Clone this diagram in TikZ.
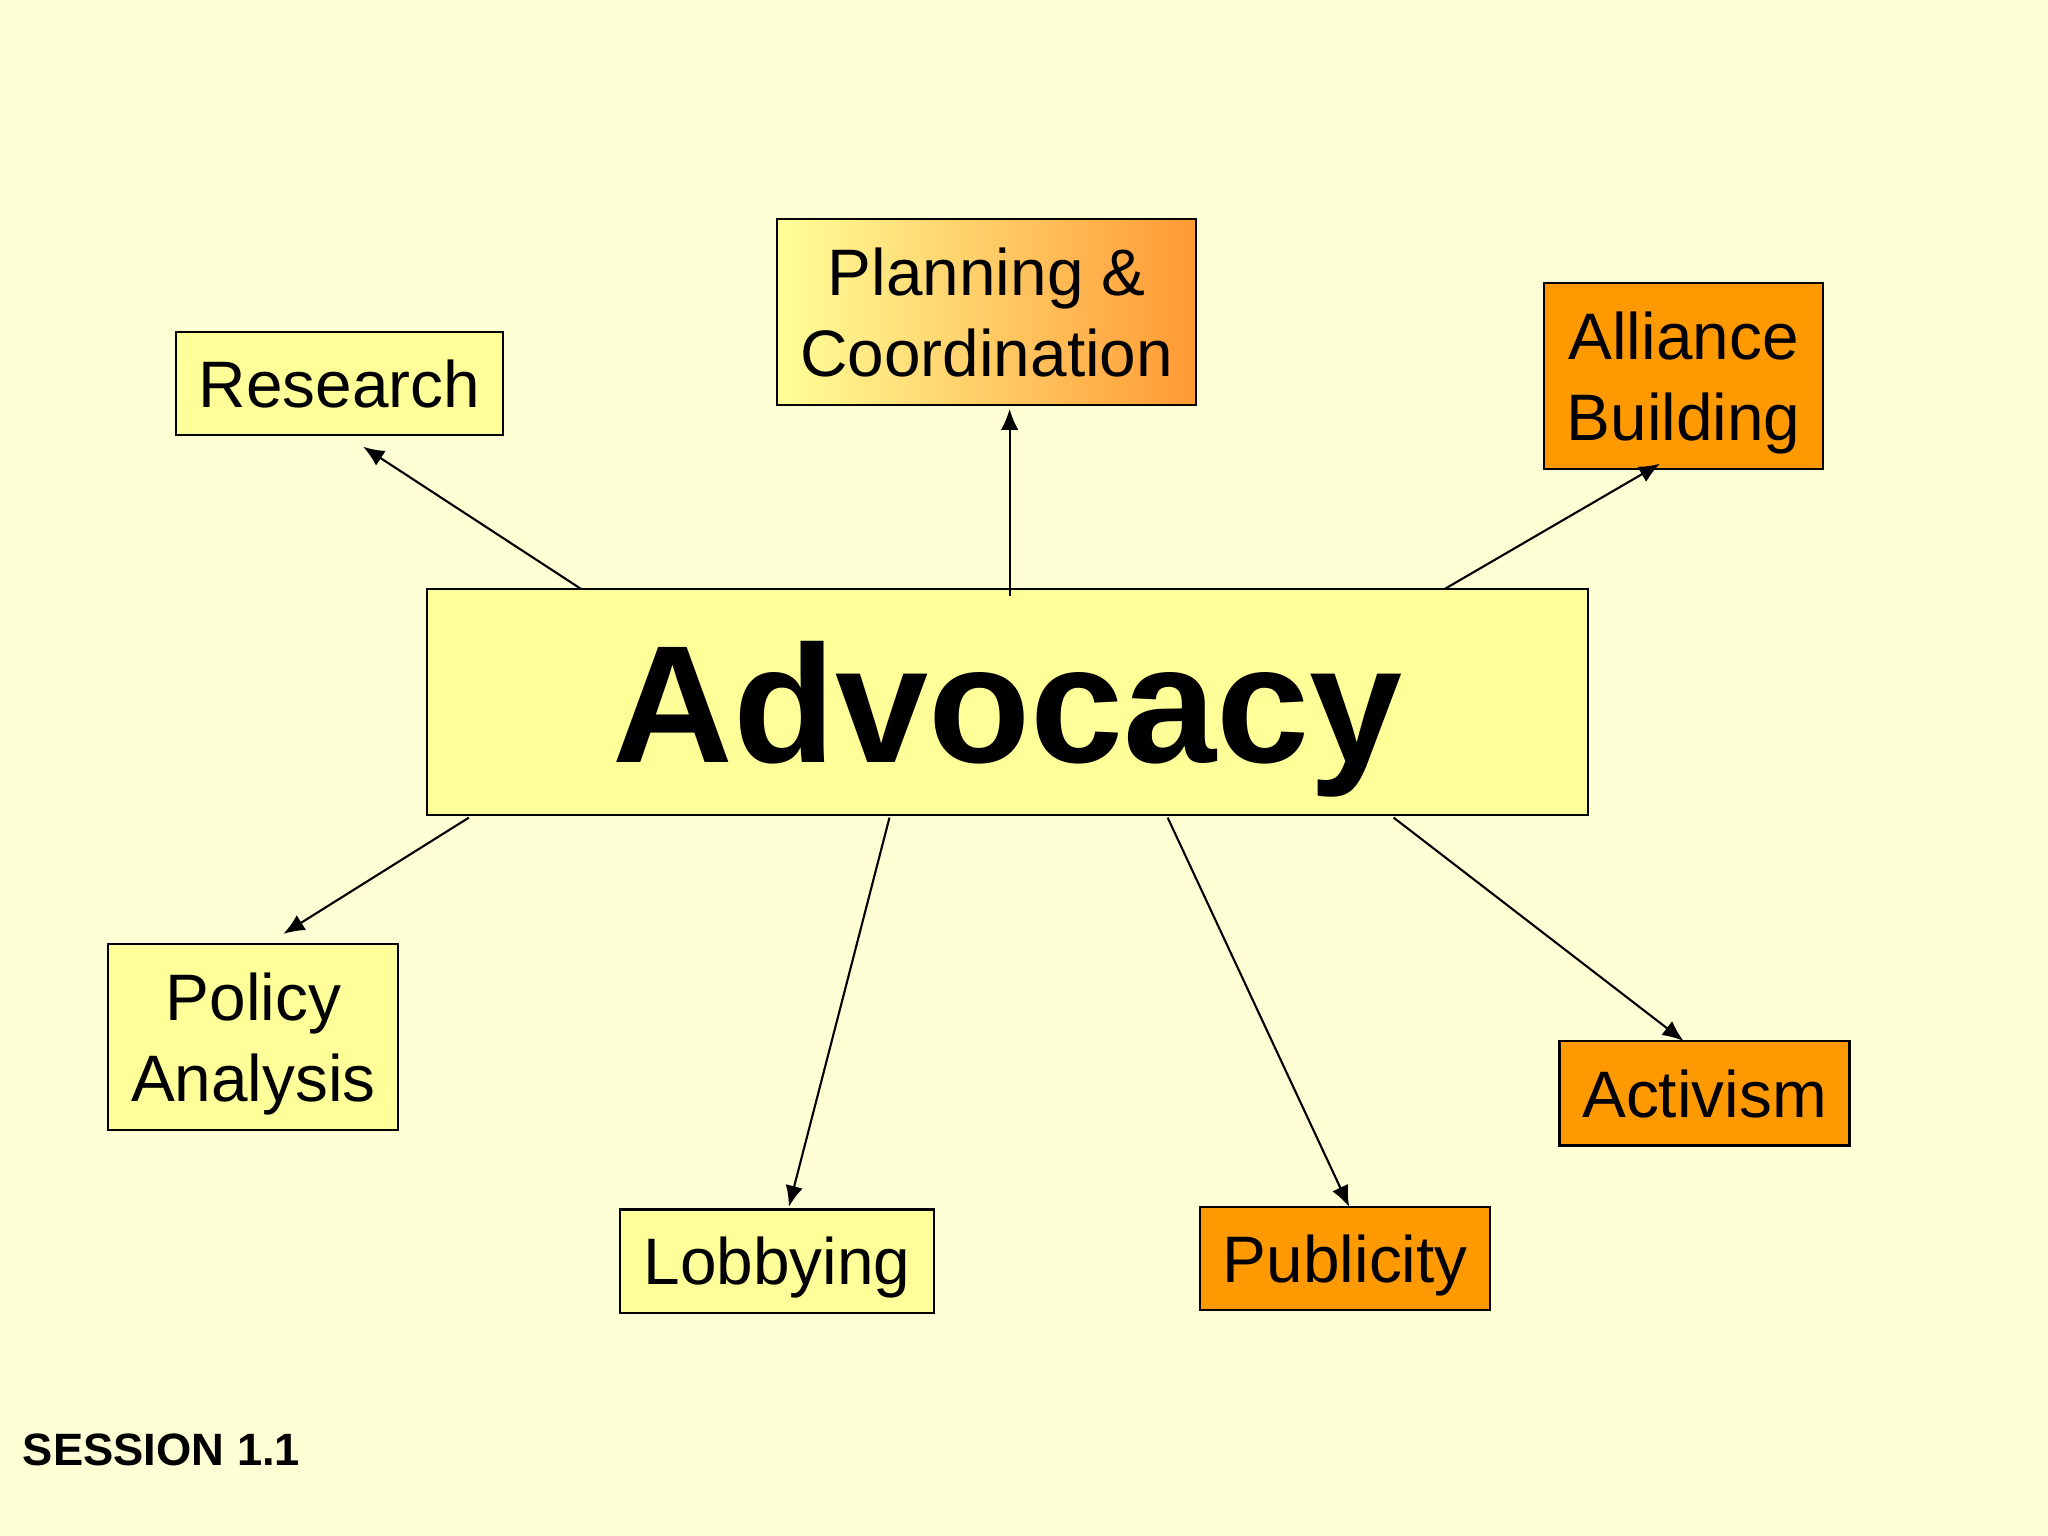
\documentclass[tikz,border=0pt]{standalone}
\usepackage{fontspec}
\setmainfont{Liberation Sans}
\usetikzlibrary{arrows.meta}
\definecolor{bgcream}{RGB}{255,255,214}
\definecolor{lightyel}{RGB}{255,255,153}
\definecolor{orangebox}{RGB}{255,153,0}
\definecolor{orangegrad}{RGB}{255,153,51}
\def\U{0.013061cm}
\newcommand{\nodepth}[1]{\raisebox{0pt}[\height][0pt]{#1}}
\tikzset{
  box/.style={draw=black, line width=0.6pt, inner sep=0pt, align=center,
    font=\fontsize{18.7}{23.2}\selectfont},
  yelbox/.style={box, fill=lightyel},
  orabox/.style={box, fill=orangebox},
  conn/.style={line width=0.6pt, -{Latex[length=6pt,width=5pt]}},
}
\begin{document}
\begin{tikzpicture}[x=\U, y=-\U]
\useasboundingbox (0,0) rectangle (1568,1176);
\fill[bgcream] (0,0) rectangle (1568,1176);

\node[yelbox, minimum width=889*\U, minimum height=173*\U, text depth=-8*\U,
  font=\fontsize{47.6}{50}\selectfont\bfseries] (adv) at (771.5,537.5) {Advocacy};

\node[yelbox, minimum width=250*\U, minimum height=79*\U, text depth=0pt] (res) at (260,293.5) {Research};
\node[box, left color=lightyel, right color=orangegrad, minimum width=321*\U, minimum height=142*\U] (plan) at (755.5,239) {Planning \&\\\nodepth{Coordination}};
\node[orabox, minimum width=214*\U, minimum height=142*\U] (all) at (1289,288) {Alliance\\\nodepth{Building}};
\node[yelbox, minimum width=222*\U, minimum height=142*\U] (pol) at (194,794) {Policy\\\nodepth{Analysis}};
\node[yelbox, minimum width=240*\U, minimum height=79*\U, text depth=0pt] (lob) at (595,965.5) {Lobbying};
\node[orabox, minimum width=222*\U, minimum height=79*\U, text depth=0pt] (pub) at (1030,963.5) {Publicity};
\node[orabox, minimum width=222*\U, minimum height=80*\U, text depth=0pt] (act) at (1305,837) {Activism};

\node[anchor=base west, inner sep=0pt, font=\fontsize{12.9}{15}\selectfont\bfseries] (sess) at (17,1122) {SESSION 1.1};

% connector endpoints
\coordinate (sRes) at (445,451);   \coordinate (eRes) at (278,342);
\coordinate (sPlan) at (773,456);  \coordinate (ePlan) at (773,313);
\coordinate (sAll) at (1106,451);  \coordinate (eAll) at (1271,355);
\coordinate (sPol) at (359,626);   \coordinate (ePol) at (217,715);
\coordinate (sLob) at (681,626);   \coordinate (eLob) at (604,924);
\coordinate (sPub) at (894,626);   \coordinate (ePub) at (1033,924);
\coordinate (sAct) at (1067,626);  \coordinate (eAct) at (1289,797);

\draw[conn] (sRes) -- (eRes);
\draw[conn] (sPlan) -- (ePlan);
\draw[conn] (sAll) -- (eAll);
\draw[conn] (sPol) -- (ePol);
\draw[conn] (sLob) -- (eLob);
\draw[conn] (sPub) -- (ePub);
\draw[conn] (sAct) -- (eAct);
\end{tikzpicture}
\end{document}
